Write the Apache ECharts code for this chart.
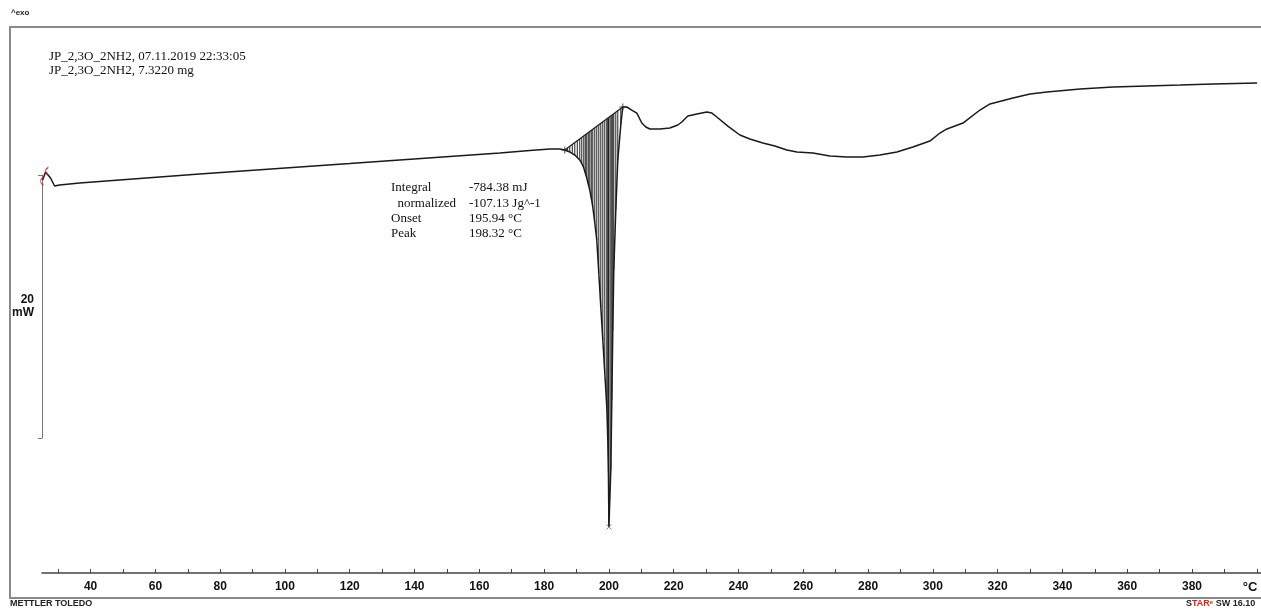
<!DOCTYPE html>
<html><head><meta charset="utf-8">
<script src="https://cdn.jsdelivr.net/npm/echarts@6/dist/echarts.min.js"></script>
<style>html,body{margin:0;padding:0;background:#fff}#c{width:1261px;height:612px}</style>
</head><body><div id="c"></div>
<script>
// ---- data (°C, mW) ----
const temperature = [
  25.2, 26.1, 26.71, 27.64, 28.88, 30.42, 36.60, 48.95, 61.30, 73.66, 89.10, 104.54, 119.98, 135.42, 150.87,
  166.31, 175.57, 181.75, 184.84, 186.38, 187.15, 187.92, 188.70, 189.47, 190.24, 191.01, 191.63, 192.25,
  192.71, 193.17, 193.63, 194.10, 194.56, 195.03, 195.65, 196.26,
  196.88, 197.50, 198.12, 198.73, 199.35, 199.66, 199.85, 199.95, 200.0, 200.59, 200.90, 201.20, 201.51,
  202.13, 202.75, 203.67, 204.29, 204.6, 205.53, 207.07, 208.62, 210.16, 211.40, 212.63, 215.72, 218.81,
  221.28, 222.51, 224.37, 227.15, 230.23, 231.78, 233.32, 236.72, 240.43, 243.51, 247.53, 251.24, 254.94,
  258.03, 262.97, 268.22, 273.47, 278.41, 283.66, 288.91, 293.85, 299.10, 302.19, 304.35, 309.30, 314.55,
  317.63, 324.74, 329.99, 335.24, 345.43, 355.62, 366.13, 376.31, 386.50, 400.09
];
const heatFlow = [
  -6.11, -5.50, -5.43, -5.96, -6.57, -6.49, -6.34, -6.11, -5.88, -5.66, -5.39, -5.12, -4.86, -4.59, -4.32,
  -4.06, -3.87, -3.75, -3.75, -3.83, -3.91, -3.98, -4.10, -4.21, -4.40, -4.59, -4.86, -5.20,
  -5.58, -5.96, -6.42, -6.87, -7.48, -8.17, -9.38, -10.68,
  -13.19, -15.77, -18.28, -20.79, -23.38, -25.89, -28.40, -30.98, -32.50, -28.17, -22.84, -17.52, -12.96,
  -8.39, -4.59, -1.93, -0.56, -0.41, -0.56, -0.79, -1.02, -1.78, -2.08, -2.23, -2.23, -2.16,
  -1.93, -1.70, -1.24, -1.09, -0.94, -1.02, -1.32, -2.01, -2.69, -2.99, -3.30, -3.53, -3.83,
  -3.98, -4.06, -4.29, -4.36, -4.36, -4.21, -3.98, -3.60, -3.15, -2.54, -2.23, -1.78, -0.79,
  -0.33, 0.12, 0.43, 0.58, 0.81, 0.96, 1.04, 1.11, 1.19, 1.26
];
const integrationStart = [186.38, -3.83];
const integrationEnd = [204.29, -0.56];
const peakPoint = [200.0, -32.50];
const startMarks = [[25.0, -6.2], [26.5, -5.45]];
const xTickValues = [30,40,50,60,70,80,90,100,110,120,130,140,150,160,170,180,190,200,210,220,230,240,250,260,270,280,290,300,310,320,330,340,350,360,370,380,390,400];
const xLabelValues = [40,60,80,100,120,140,160,180,200,220,240,260,280,300,320,340,360,380];
const scaleBar = [0, 20];
const scaleLabel = '20\nmW';
const headerLines = ['JP_2,3O_2NH2, 07.11.2019 22:33:05', 'JP_2,3O_2NH2, 7.3220 mg'];
const resultLabels = ['Integral', '  normalized', 'Onset', 'Peak'];
const resultValues = ['-784.38 mJ', '-107.13 Jg^-1', '195.94 °C', '198.32 °C'];

// ---- build ----
const curve = temperature.map((t, i) => [t, heatFlow[i]]);
const hatch = [];
temperature.forEach((t, i) => {
  if (t >= integrationStart[0] && t <= integrationEnd[0]) {
    const f = (t - integrationStart[0]) / (integrationEnd[0] - integrationStart[0]);
    const base = integrationStart[1] + f * (integrationEnd[1] - integrationStart[1]);
    hatch.push([t, heatFlow[i], base]);
  }
});

const serif = '"Liberation Serif", "Times New Roman", serif';
const sans = '"Liberation Sans", Arial, sans-serif';

const graphics = [
  {type:'rect', z:0, silent:true, shape:{x:10, y:27, width:1300, height:571}, style:{fill:'none', stroke:'#8a8a8a', lineWidth:2}},
  {type:'text', style:{text:'^exo', x:11, y:13, font:'bold 8px ' + sans, fill:'#222', textVerticalAlign:'middle', verticalAlign:'middle'}},
  {type:'text', style:{text:'°C', x:1250, y:587, font:'bold 13px ' + sans, fill:'#111', textAlign:'center', textVerticalAlign:'middle', verticalAlign:'middle'}},
  {type:'text', style:{text:'METTLER TOLEDO', x:10, y:604, font:'bold 9px ' + sans, fill:'#222', textVerticalAlign:'middle', verticalAlign:'middle'}},
  {type:'text', style:{text:'{k|S}{r|TAR}{s|e}{k| SW 16.10}', x:1186, y:604, textVerticalAlign:'middle', verticalAlign:'middle',
    rich:{k:{font:'bold 9px ' + sans, fill:'#222', color:'#222'}, r:{font:'bold 9px ' + sans, fill:'#e0201b', color:'#e0201b'}, s:{font:'bold 6px ' + sans, fill:'#e0201b', color:'#e0201b', verticalAlign:'top'}}}}
];
headerLines.forEach((s, i) => graphics.push({type:'text', style:{text:s, x:49, y:57 + i*14, font:'13px ' + serif, fill:'#111', textVerticalAlign:'middle', verticalAlign:'middle'}}));
resultLabels.forEach((s, i) => {
  graphics.push({type:'text', style:{text:s, x:391, y:188 + i*15.3, font:'13px ' + serif, fill:'#111', textVerticalAlign:'middle', verticalAlign:'middle'}});
  graphics.push({type:'text', style:{text:resultValues[i], x:469, y:188 + i*15.3, font:'13px ' + serif, fill:'#111', textVerticalAlign:'middle', verticalAlign:'middle'}});
});

const chart = echarts.init(document.getElementById('c'), null, {renderer:'canvas'});
chart.setOption({
  animation:false,
  backgroundColor:'#fff',
  grid:[
    {left:42, right:0, top:26, bottom:39},
    {left:42, width:1, top:175, height:263}
  ],
  xAxis:[
    {type:'value', gridIndex:0, min:25, max:401.3, position:'bottom',
      axisLine:{show:true, onZero:false, lineStyle:{color:'#444', width:1.5}},
      axisTick:{show:true, inside:true, length:4, customValues:xTickValues, lineStyle:{color:'#444'}},
      axisLabel:{show:true, customValues:xLabelValues, margin:8, color:'#111', fontSize:12, fontWeight:'bold', fontFamily:sans},
      splitLine:{show:false}},
    {type:'value', gridIndex:1, min:0, max:1, show:false}
  ],
  yAxis:[
    {type:'value', gridIndex:0, min:-36, max:5.6, show:false},
    {type:'value', gridIndex:1, min:scaleBar[0], max:scaleBar[1], interval:20, position:'left',
      axisLine:{show:true, onZero:false, lineStyle:{color:'#777', width:1}},
      axisTick:{show:true, length:4, lineStyle:{color:'#777'}},
      axisLabel:{show:false}, splitLine:{show:false},
      name:scaleLabel, nameLocation:'middle', nameRotate:0, nameGap:8,
      nameTextStyle:{fontSize:12, fontWeight:'bold', fontFamily:sans, color:'#111', align:'right', lineHeight:13}}
  ],
  series:[
    {type:'custom', xAxisIndex:0, yAxisIndex:0, data:hatch, z:2, silent:true,
      renderItem:function(params, api){
        const p1 = api.coord([api.value(0), api.value(1)]);
        const p2 = api.coord([api.value(0), api.value(2)]);
        return {type:'line', shape:{x1:p1[0], y1:p1[1], x2:p2[0], y2:p2[1]}, style:{stroke:'#222', lineWidth:1}};
      }},
    {type:'line', xAxisIndex:0, yAxisIndex:0, data:[integrationStart, integrationEnd], symbol:'none', z:3,
      lineStyle:{color:'#222', width:1.3}},
    {type:'line', xAxisIndex:0, yAxisIndex:0, data:curve, symbol:'none', z:4,
      lineStyle:{color:'#1a1a1a', width:1.5}},
    {type:'scatter', xAxisIndex:0, yAxisIndex:0, data:[integrationStart, integrationEnd], z:5,
      symbol:'path://M5,0L5,10M0,5L10,5', symbolSize:7, itemStyle:{color:'none', borderColor:'#222', borderWidth:1}},
    {type:'scatter', xAxisIndex:0, yAxisIndex:0, data:[peakPoint], z:5,
      symbol:'path://M0,0L10,10M10,0L0,10', symbolSize:5, itemStyle:{color:'none', borderColor:'#666', borderWidth:1}},
    {type:'scatter', xAxisIndex:0, yAxisIndex:0, data:startMarks, z:5,
      symbol:'path://M3,0Q0,5 3,10', symbolSize:[3,8], itemStyle:{color:'none', borderColor:'#e0201b', borderWidth:1.2}}
  ],
  graphic:graphics
});
</script>
</body></html>
